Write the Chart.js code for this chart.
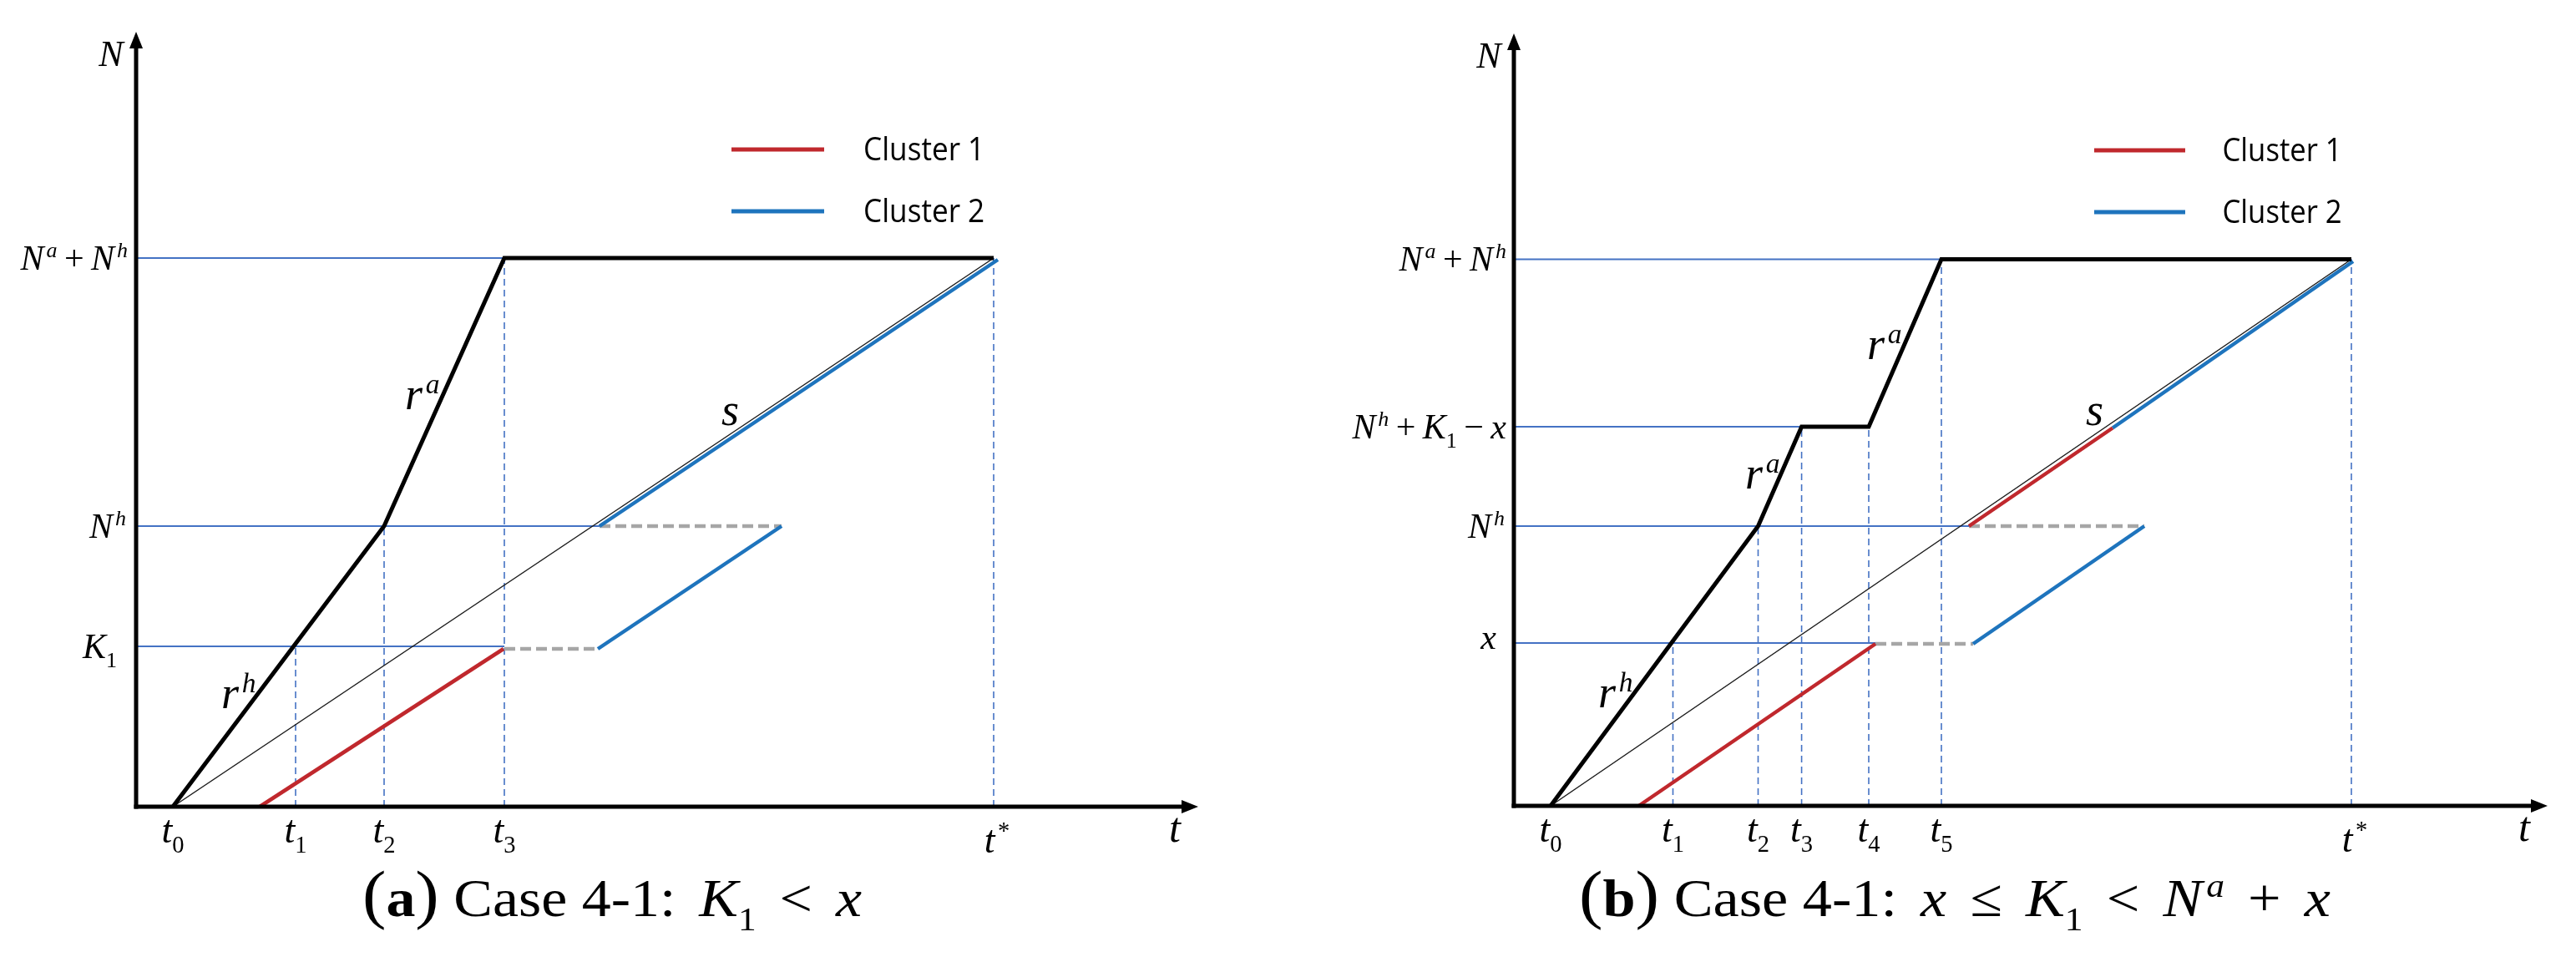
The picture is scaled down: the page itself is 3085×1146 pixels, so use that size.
<!DOCTYPE html>
<html><head><meta charset="utf-8">
<script src="https://cdn.jsdelivr.net/npm/chart.js@4.4.1/dist/chart.umd.min.js"></script>
<style>
html,body{margin:0;padding:0;background:#fff;}
#wrap{position:relative;width:3085px;height:1146px;overflow:hidden;}
canvas{position:absolute;top:0;}
#ca{left:0;} #cb{left:1543px;}
</style></head><body>
<div id="wrap">
<canvas id="ca" width="1543" height="1146"></canvas>
<canvas id="cb" width="1542" height="1146"></canvas>
</div>
<script>
// ---------- Panel (a) data ----------
const A_tickText     = ['t_0','t_1','t_2','t_3','t^*'];
const A_tickValue    = [4.4, 19.1, 29.7, 44.1, 102.7];
const A_tickGuideTop = [0, 19.2, 33.6, 65.7, 65.7];
const A_levelText    = ['N^a + N^h','N^h','K_1'];
const A_levelValue   = [65.7, 33.6, 19.2];
const A_levelGuideEnd= [44.1, 55.5, 44.1];
const A_curveX = [4.4, 29.7, 44.1, 102.7];
const A_curveY = [0, 33.6, 65.7, 65.7];
const A_sX = [4.4, 102.7];
const A_sY = [0, 65.7];
const A_c1X = [[14.8, 44.0]];
const A_c1Y = [[0, 18.9]];
const A_c2X = [[55.3, 77.3], [55.5, 103.2]];
const A_c2Y = [[18.9, 33.6], [33.6, 65.5]];
const A_waitX = [[44.1, 55.3], [55.5, 77.3]];
const A_waitY = [[18.9, 18.9], [33.6, 33.6]];
const A_noteText = ['r^a','r^h','s'];
const A_noteX = [32.2, 10.2, 70.1];
const A_noteY = [47.6, 11.8, 45.7];
const A_captionTag = 'a';
const A_captionText = 'Case 4-1:';
const A_captionMath = 'K_1 < x';

// ---------- Panel (b) data ----------
const B_tickText     = ['t_0','t_1','t_2','t_3','t_4','t_5','t^*'];
const B_tickValue    = [4.4, 19.05, 29.25, 34.46, 42.5, 51.2, 100.3];
const B_tickGuideTop = [0, 19.5, 33.5, 45.4, 45.4, 65.45, 65.45];
const B_levelText    = ['N^a + N^h','N^h + K_1 \u2212 x','N^h','x'];
const B_levelValue   = [65.45, 45.4, 33.5, 19.5];
const B_levelGuideEnd= [51.2, 34.46, 54.5, 43.3];
const B_curveX = [4.4, 29.25, 34.46, 42.5, 51.2, 100.3];
const B_curveY = [0, 33.5, 45.4, 45.4, 65.45, 65.45];
const B_sX = [4.4, 100.3];
const B_sY = [0, 65.45];
const B_c1X = [[14.96, 43.3], [54.5, 71.7]];
const B_c1Y = [[0, 19.4], [33.5, 45.25]];
const B_c2X = [[55.0, 75.5], [71.7, 100.5]];
const B_c2Y = [[19.4, 33.5], [45.25, 65.2]];
const B_waitX = [[43.3, 55.0], [54.5, 75.5]];
const B_waitY = [[19.4, 19.4], [33.5, 33.5]];
const B_noteText = ['r^a','r^a','r^h','s'];
const B_noteX = [42.3, 27.7, 10.1, 68.5];
const B_noteY = [53.5, 38.0, 11.8, 45.6];
const B_captionTag = 'b';
const B_captionText = 'Case 4-1:';
const B_captionMath = 'x \u2264 K_1 < N^a + x';

const legendText = ['Cluster 1','Cluster 2'];
const axisNames = ['N','t'];

// ---------- styles ----------
const RED = '#C0282D', BLUE = '#1E74BD', GRAY = '#A6A6A6', GUIDE = '#4472C4';
const MATH = '"Liberation Serif","DejaVu Serif",serif';
const SANS = '"Open Sans","Lato",sans-serif';

function parseMath(str, sp){
  const runs=[];
  for(let i=0;i<str.length;i++){
    let c=str[i], mode='base';
    if((c==='_'||c==='^') && i+1<str.length){ mode = c==='_'?'sub':'sup'; c=str[++i]; }
    runs.push({t:c, it:/[A-Za-z]/.test(c), mode, sp});
  }
  return runs;
}
function plainRuns(str, opts){
  return str.split('').map(c=>Object.assign({t:c, it:false, mode:'base', sp:0.25}, opts||{}));
}
function drawRuns(ctx, runs, F, fam, x, y, align, targetW){
  let prevItalicBase = false;
  const items = runs.map(r=>{
    const size = r.mode==='base' ? F*(r.scale||1) : F*0.62;
    const font = (r.it?'italic ':'')+(r.b?'bold ':'')+size.toFixed(1)+'px '+fam;
    ctx.font = font;
    const w = r.t===' ' ? F*(r.sp==null?0.2:r.sp) : ctx.measureText(r.t).width;
    const dy = r.mode==='sub' ? F*0.27 : (r.mode==='sup' ? -F*0.36 : 0);
    const pre = (r.mode==='sup' && prevItalicBase) ? F*0.07 : 0;
    prevItalicBase = (r.mode==='base' && r.it);
    return {t:r.t, font, w:w+pre, pre, dy};
  });
  const total = items.reduce((s,i)=>s+i.w,0);
  const sx = targetW ? targetW/total : 1;
  const W = total*sx;
  const x0 = align==='right' ? x-W : (align==='center' ? x-W/2 : x);
  ctx.save();
  ctx.translate(x0,y); ctx.scale(sx,1);
  ctx.textAlign='left'; ctx.textBaseline='alphabetic'; ctx.fillStyle='#000';
  let cx=0;
  items.forEach(it=>{ if(it.t!==' '){ ctx.font=it.font; ctx.fillText(it.t,cx+it.pre,it.dy); } cx+=it.w; });
  ctx.restore();
  return W;
}

function decorPlugin(P){
  return {
    id:'decor',
    afterDatasetsDraw(chart){
      const {ctx, chartArea:a, scales:{x:X, y:Y}} = chart;
      ctx.save();
      // axes
      ctx.strokeStyle='#000'; ctx.fillStyle='#000'; ctx.lineWidth=5; ctx.lineCap='butt';
      ctx.beginPath(); ctx.moveTo(a.left, a.bottom+2.5); ctx.lineTo(a.left, a.top+18); ctx.stroke();
      ctx.beginPath(); ctx.moveTo(a.left-2.5, a.bottom); ctx.lineTo(a.right-18, a.bottom); ctx.stroke();
      ctx.beginPath(); ctx.moveTo(a.left, a.top); ctx.lineTo(a.left-8, a.top+20); ctx.lineTo(a.left+8, a.top+20); ctx.closePath(); ctx.fill();
      ctx.beginPath(); ctx.moveTo(a.right, a.bottom); ctx.lineTo(a.right-20, a.bottom-8); ctx.lineTo(a.right-20, a.bottom+8); ctx.closePath(); ctx.fill();
      // axis names
      drawRuns(ctx, parseMath(axisNames[0]), 44, MATH, a.left-30, a.top+41, 'center');
      drawRuns(ctx, parseMath(axisNames[1]), 50, MATH, a.right-28, a.bottom+42, 'center');
      // tick labels
      P.tickText.forEach((s,i)=>{
        const px = X.getPixelForValue(P.tickValue[i]);
        const star = s.indexOf('*')>=0;
        drawRuns(ctx, parseMath(s), 46, MATH, px+(star?4:0), a.bottom+(star?55:43), 'center');
      });
      // level labels
      P.levelText.forEach((s,i)=>{
        const py = Y.getPixelForValue(P.levelValue[i]);
        const F = 42;
        const low = /^[a-z]/.test(s);
        drawRuns(ctx, parseMath(s, 0.2), F, MATH, a.left-P.levelGap[i], py+(low?0.17:0.33)*F, 'right');
      });
      // curve notes
      P.noteText.forEach((s,i)=>{
        drawRuns(ctx, parseMath(s), 54, MATH, X.getPixelForValue(P.noteX[i]), Y.getPixelForValue(P.noteY[i]), 'left');
      });
      // legend
      const L = P.legend;
      [RED, BLUE].forEach((c,i)=>{
        ctx.strokeStyle=c; ctx.lineWidth=5;
        ctx.beginPath(); ctx.moveTo(L.x0, L.ys[i]); ctx.lineTo(L.x1, L.ys[i]); ctx.stroke();
        drawRuns(ctx, plainRuns(legendText[i], {sp:0.25}), 38, SANS, L.tx, L.ys[i]+13, 'left', L.tw);
      });
      // caption
      const C = P.caption;
      const runs = [{t:'(', mode:'base', scale:1.22},{t:P.captionTag, b:true, mode:'base'},{t:')', mode:'base', scale:1.22},{t:' ',sp:0.25}]
        .concat(plainRuns(P.captionText)).concat([{t:' ',sp:0.4}]).concat(parseMath(P.captionMath, 0.4));
      drawRuns(ctx, runs, 64, MATH, C.cx, C.y, 'center', C.w);
      ctx.restore();
    }
  };
}

function buildPanel(id, P){
  const ds=[];
  const add=(xs, ys, st, order)=>ds.push(Object.assign({
    data: xs.map((x,i)=>({x, y:ys[i]})), showLine:true, pointRadius:0, pointHoverRadius:0,
    fill:false, tension:0, clip:false, order, borderJoinStyle:'miter', borderCapStyle:'butt'}, st));
  P.tickValue.forEach((t,i)=>{ if(P.tickGuideTop[i]>0) add([t,t],[0,P.tickGuideTop[i]],{borderColor:GUIDE,borderWidth:1.6,borderDash:[8,5]},7); });
  P.levelValue.forEach((v,i)=>add([0,P.levelGuideEnd[i]],[v,v],{borderColor:GUIDE,borderWidth:2},6));
  P.waitX.forEach((xs,i)=>add(xs,P.waitY[i],{borderColor:GRAY,borderWidth:4.5,borderDash:[13,6]},5));
  add(P.sX,P.sY,{borderColor:'#1a1a1a',borderWidth:1.5},4);
  P.c1X.forEach((xs,i)=>add(xs,P.c1Y[i],{borderColor:RED,borderWidth:4.5,label:legendText[0]},3));
  P.c2X.forEach((xs,i)=>add(xs,P.c2Y[i],{borderColor:BLUE,borderWidth:4.5,label:legendText[1]},3));
  add(P.curveX,P.curveY,{borderColor:'#000',borderWidth:5},2);
  return new Chart(document.getElementById(id),{
    type:'scatter',
    data:{datasets:ds},
    options:{
      responsive:false, animation:false, events:[],
      layout:{padding:P.pad},
      plugins:{legend:{display:false}, tooltip:{enabled:false}},
      scales:{
        x:{type:'linear', min:0, max:P.xMax, display:false},
        y:{type:'linear', min:0, max:P.yMax, display:false}
      }
    },
    plugins:[decorPlugin(P)]
  });
}

buildPanel('ca',{
  tickText:A_tickText, tickValue:A_tickValue, tickGuideTop:A_tickGuideTop,
  levelText:A_levelText, levelValue:A_levelValue, levelGuideEnd:A_levelGuideEnd, levelGap:[10,12,23],
  curveX:A_curveX, curveY:A_curveY, sX:A_sX, sY:A_sY,
  c1X:A_c1X, c1Y:A_c1Y, c2X:A_c2X, c2Y:A_c2Y, waitX:A_waitX, waitY:A_waitY,
  noteText:A_noteText, noteX:A_noteX, noteY:A_noteY,
  captionTag:A_captionTag, captionText:A_captionText, captionMath:A_captionMath,
  pad:{left:163, top:38, right:108, bottom:180}, xMax:127.2, yMax:92.8,
  legend:{x0:876, x1:987, tx:1034, tw:145, ys:[179,253]},
  caption:{cx:733, w:598, y:1097}
});
buildPanel('cb',{
  tickText:B_tickText, tickValue:B_tickValue, tickGuideTop:B_tickGuideTop,
  levelText:B_levelText, levelValue:B_levelValue, levelGuideEnd:B_levelGuideEnd, levelGap:[9,9,11,21],
  curveX:B_curveX, curveY:B_curveY, sX:B_sX, sY:B_sY,
  c1X:B_c1X, c1Y:B_c1Y, c2X:B_c2X, c2Y:B_c2Y, waitX:B_waitX, waitY:B_waitY,
  noteText:B_noteText, noteX:B_noteX, noteY:B_noteY,
  captionTag:B_captionTag, captionText:B_captionText, captionMath:B_captionMath,
  pad:{left:270, top:40, right:34, bottom:181}, xMax:123.8, yMax:92.5,
  legend:{x0:965, x1:1074, tx:1118.5, tw:143, ys:[180,254]},
  caption:{cx:798, w:900, y:1097}
});
</script>
</body></html>
